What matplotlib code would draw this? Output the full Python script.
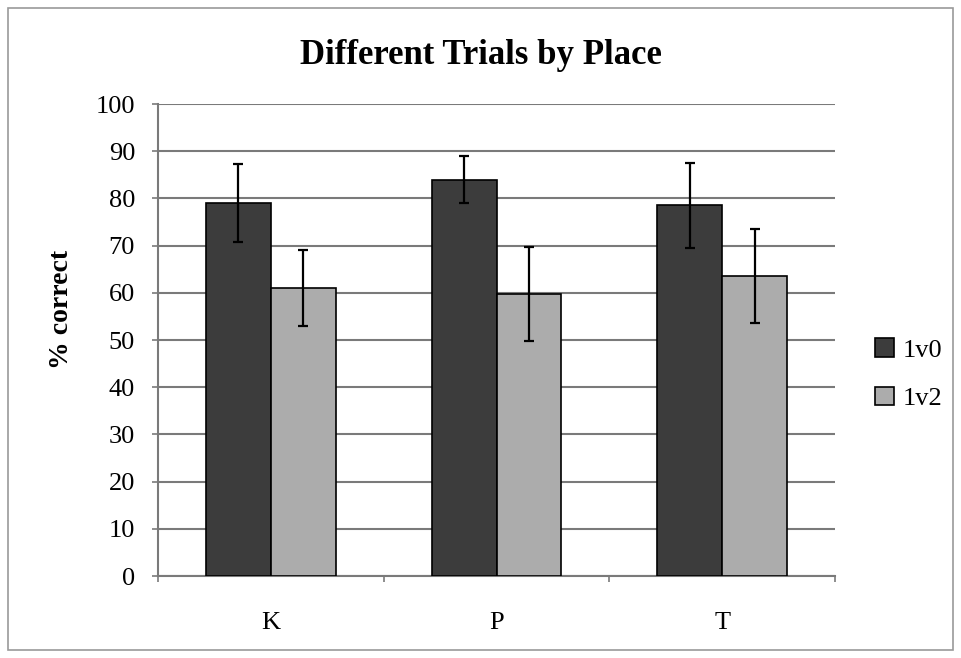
import numpy as np
import matplotlib
matplotlib.use("Agg")
import matplotlib.pyplot as plt
from matplotlib.patches import Rectangle

# data
places = ["K", "P", "T"]
series = ["1v0", "1v2"]
pct_1v0 = [79, 84, 78.6]
err_1v0 = [8.2, 5, 9]
pct_1v2 = [61, 59.7, 63.6]
err_1v2 = [8, 10, 10]

plt.rcParams['font.family'] = ['Liberation Serif', 'DejaVu Serif']

fig = plt.figure(figsize=(9.61, 6.58), dpi=100)
ax = fig.add_axes([0.1644, 0.1246, 0.7045, 0.7173])

x = np.arange(len(places))
w = 0.288
err_kw = dict(ecolor='black', elinewidth=1.6, capsize=3.5, capthick=1.6)

ax.bar(x - w / 2, pct_1v0, w, yerr=err_1v0, color='#3c3c3c', edgecolor='black',
       linewidth=1.2, label=series[0], error_kw=err_kw, zorder=3)
ax.bar(x + w / 2, pct_1v2, w, yerr=err_1v2, color='#acacac', edgecolor='black',
       linewidth=1.2, label=series[1], error_kw=err_kw, zorder=3)

ax.set_xlim(-0.5, len(places) - 0.5)
ax.set_ylim(0, 100)
ax.set_yticks(range(0, 101, 10))
ax.yaxis.grid(True, color='#7a7a7a', linewidth=1.5, zorder=0)
ax.set_axisbelow(True)

# boundaries get tick marks, labels sit in the middle
ax.set_xticks(np.arange(-0.5, len(places), 1.0))
ax.set_xticklabels([])
ax.set_xticks(x, minor=True)
ax.set_xticklabels(places, minor=True, fontsize=19)
ax.tick_params(axis='x', which='major', direction='out', length=4.5, color='#7a7a7a', width=1.2)
ax.tick_params(axis='x', which='minor', length=0, pad=26)
ax.tick_params(axis='y', direction='out', length=4.5, color='#7a7a7a', width=1.2,
               labelsize=19, pad=12)

for side in ['top', 'right']:
    ax.spines[side].set_visible(False)
for side in ['left', 'bottom']:
    ax.spines[side].set_color('#7a7a7a')
    ax.spines[side].set_linewidth(1.5)

fig.text(0.0635, 0.529, "% correct", rotation=90, ha='center', va='center',
         fontsize=20, fontweight='bold')
fig.text(0.5, 0.9027, "Different Trials by Place", ha='center', va='baseline',
         fontsize=25, fontweight='bold')

fig.legend(loc='center left', bbox_to_anchor=(0.900, 0.431), frameon=False,
           prop={'size': 19},
           handlelength=0.7, handleheight=0.7, handletextpad=0.35,
           labelspacing=0.95, borderaxespad=0)

fig.patches.append(Rectangle((0.008, 0.012), 0.984, 0.976, transform=fig.transFigure,
                             fill=False, edgecolor='#9a9a9a', linewidth=1.2))

fig.savefig('out.png', dpi=100)
